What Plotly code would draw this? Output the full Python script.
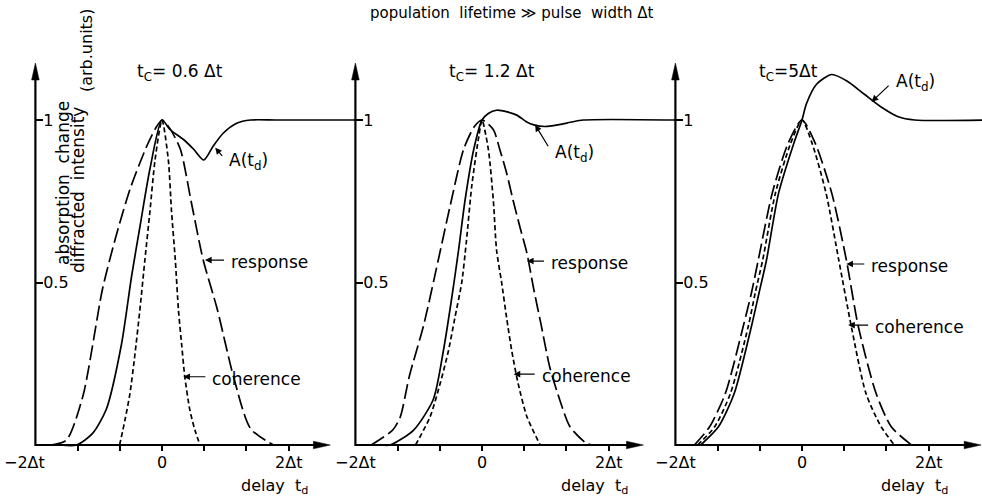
import plotly.graph_objects as go

# ---------------- data (delay t_d in units of Δt, signal in arb. units) ----------------
panel_titles = ["t<sub>C</sub>= 0.6 Δt", "t<sub>C</sub>= 1.2 Δt", "t<sub>C</sub>=5Δt"]
x_tick_vals = [-2, -4 / 3, -2 / 3, 0, 2 / 3, 4 / 3, 2]
x_label_vals = [-2, 0, 2]
x_label_text = ["−2Δt", "0", "2Δt"]
y_tick_vals = [0.5, 1]
y_tick_text = ["0.5", "1"]

# panel 1 : t_C = 0.6 Δt
a1_t = [-1.6, -1.35, -1.1, -0.88, -0.64, -0.48, -0.35, -0.19, 0.0, 0.13, 0.34, 0.5, 0.66, 0.81, 0.97, 1.18, 1.4, 1.8, 3.05]
a1_y = [0.0, 0.0, 0.035, 0.11, 0.31, 0.52, 0.67, 0.85, 1.0, 0.97, 0.94, 0.91, 0.877, 0.92, 0.96, 0.99, 1.0, 1.0, 1.0]
r1_t = [-1.75, -1.51, -1.25, -0.94, -0.73, -0.5, -0.24, -0.1, 0.0, 0.12, 0.29, 0.47, 0.65, 0.87, 1.13, 1.4, 1.76]
r1_y = [0.0, 0.015, 0.15, 0.48, 0.64, 0.79, 0.92, 0.975, 1.0, 0.975, 0.91, 0.74, 0.57, 0.42, 0.21, 0.05, 0.0]
c1_t = [-0.67, -0.585, -0.506, -0.427, -0.35, -0.27, -0.19, -0.11, 0.0, 0.1, 0.15, 0.21, 0.26, 0.31, 0.36, 0.44, 0.52, 0.6]
c1_y = [0.0, 0.077, 0.159, 0.28, 0.415, 0.57, 0.72, 0.877, 1.0, 0.877, 0.72, 0.57, 0.415, 0.31, 0.21, 0.108, 0.046, 0.0]

# panel 2 : t_C = 1.2 Δt
a2_t = [-1.6, -1.45, -1.08, -0.77, -0.61, -0.48, -0.37, -0.27, -0.13, 0.0, 0.1, 0.23, 0.4, 0.55, 0.7, 0.82, 1.0, 1.2, 1.4, 1.6, 3.05]
a2_y = [0.0, 0.0, 0.046, 0.14, 0.29, 0.45, 0.6, 0.75, 0.91, 1.0, 1.02, 1.03, 1.025, 1.015, 0.995, 0.985, 0.98, 0.985, 0.993, 1.0, 1.0]
r2_t = [-1.75, -1.41, -1.29, -1.15, -0.92, -0.69, -0.51, -0.29, -0.12, 0.0, 0.18, 0.28, 0.39, 0.49, 0.6, 0.71, 0.81, 0.94, 1.07, 1.23, 1.39, 1.65, 1.75]
r2_y = [0.0, 0.046, 0.087, 0.21, 0.37, 0.57, 0.73, 0.91, 0.98, 1.0, 0.97, 0.91, 0.836, 0.754, 0.67, 0.59, 0.487, 0.364, 0.24, 0.138, 0.056, 0.005, 0.0]
c2_t = [-1.05, -0.82, -0.66, -0.53, -0.43, -0.32, -0.25, -0.16, -0.05, 0.0, 0.1, 0.18, 0.23, 0.31, 0.39, 0.47, 0.57, 0.71, 0.92]
c2_y = [0.0, 0.087, 0.19, 0.29, 0.39, 0.5, 0.62, 0.8, 0.95, 1.0, 0.91, 0.75, 0.6, 0.5, 0.39, 0.29, 0.19, 0.087, 0.0]

# panel 3 : t_C = 5 Δt
a3_t = [-1.6, -1.32, -1.07, -0.8, -0.68, -0.56, -0.37, -0.13, 0.0, 0.07, 0.23, 0.47, 0.71, 0.98, 1.25, 1.52, 1.78, 2.9]
a3_y = [0.0, 0.056, 0.159, 0.364, 0.467, 0.57, 0.775, 0.928, 1.0, 1.05, 1.11, 1.14, 1.12, 1.08, 1.04, 1.01, 1.0, 1.0]
r3_t = [-1.7, -1.46, -1.21, -0.93, -0.8, -0.69, -0.47, -0.22, 0.0, 0.21, 0.47, 0.7, 0.89, 1.17, 1.41, 1.73]
r3_y = [0.0, 0.056, 0.159, 0.364, 0.467, 0.57, 0.775, 0.928, 1.0, 0.928, 0.775, 0.57, 0.364, 0.159, 0.056, 0.0]
c3_t = [-1.65, -1.38, -1.13, -0.85, -0.74, -0.62, -0.42, -0.18, 0.0, 0.16, 0.38, 0.58, 0.78, 1.01, 1.25, 1.46]
c3_y = [0.0, 0.056, 0.159, 0.364, 0.467, 0.57, 0.775, 0.928, 1.0, 0.928, 0.775, 0.57, 0.364, 0.159, 0.056, 0.0]

panels = [
    dict(A=(a1_t, a1_y), R=(r1_t, r1_y), C=(c1_t, c1_y)),
    dict(A=(a2_t, a2_y), R=(r2_t, r2_y), C=(c2_t, c2_y)),
    dict(A=(a3_t, a3_y), R=(r3_t, r3_y), C=(c3_t, c3_y)),
]

# ---------------- layout geometry (pixels) ----------------
W, H = 982, 499
ZERO_PX = [162, 482, 802]
DT_PX = 63.3
BASE_PX = 445.0
UNIT_PX = 325.0
Y_RANGE = [-(H - BASE_PX) / UNIT_PX, BASE_PX / UNIT_PX]
X_ARROW_TIP = [2.66, 2.55, 2.83]
Y_ARROW_TIP_PX = 63
FONT = "DejaVu Sans"


def fx(p):
    return p / W


def fy(p):
    return 1 - p / H


def note(text, xp, yp, size=17, angle=0, xanchor="center"):
    return dict(text=text, x=fx(xp), y=fy(yp), xref="paper", yref="paper", showarrow=False,
                xanchor=xanchor, yanchor="middle", textangle=angle,
                font=dict(size=size, family=FONT, color="black"))


fig = go.Figure()
layout = dict(
    template="none",
    width=W, height=H, margin=dict(l=0, r=0, t=0, b=0, pad=0, autoexpand=False),
    paper_bgcolor="white", plot_bgcolor="rgba(0,0,0,0)", showlegend=False,
    font=dict(family=FONT, size=16, color="black"),
)
shapes = []
annotations = []

styles = {"A": None, "R": "15px,5px", "C": "5px,3px"}

for k in range(3):
    n = "" if k == 0 else str(k + 1)
    xa, ya = "x" + n, "y" + n
    z = ZERO_PX[k]
    left = z - 2 * DT_PX
    right = min(z + 3.05 * DT_PX, W)
    layout["xaxis" + n] = dict(
        domain=[fx(left), fx(right)], range=[-2, (right - z) / DT_PX],
        anchor="free", position=(H - BASE_PX) / H, automargin=False,
        tickvals=x_tick_vals, showticklabels=False, ticks="outside", ticklen=5,
        tickwidth=1.5, tickcolor="black", showline=False, showgrid=False,
        zeroline=False, fixedrange=True,
    )
    layout["yaxis" + n] = dict(
        domain=[0, 1], range=Y_RANGE, anchor=xa, side="left", automargin=False,
        tickvals=y_tick_vals, ticktext=y_tick_text, ticks="inside", ticklen=8,
        tickwidth=1.5, tickcolor="black", ticklabelposition="inside",
        showline=False, showgrid=False, zeroline=False,
        tickfont=dict(size=16, family=FONT, color="black"), fixedrange=True,
    )
    for key in ["R", "C", "A"]:
        t, v = panels[k][key]
        line = dict(color="black", width=1.7, shape="spline", smoothing=0.7)
        if styles[key]:
            line["dash"] = styles[key]
        fig.add_trace(go.Scatter(x=t, y=v, mode="lines", line=line,
                                 xaxis=xa, yaxis=ya, hoverinfo="skip"))

    # axis lines with arrow heads (paper coordinates from pixel geometry)
    ax_px = left
    tip_px = z + X_ARROW_TIP[k] * DT_PX
    shapes.append(dict(type="line", xref="paper", yref="paper",
                       x0=fx(ax_px), y0=fy(BASE_PX), x1=fx(tip_px - 8), y1=fy(BASE_PX),
                       line=dict(color="black", width=2.2)))
    shapes.append(dict(type="path", xref="paper", yref="paper", fillcolor="black",
                       line=dict(color="black", width=0.5),
                       path=f"M {fx(tip_px)},{fy(BASE_PX)} L {fx(tip_px - 17)},{fy(BASE_PX - 3.8)} "
                            f"L {fx(tip_px - 17)},{fy(BASE_PX + 3.8)} Z"))
    shapes.append(dict(type="line", xref="paper", yref="paper",
                       x0=fx(ax_px), y0=fy(BASE_PX + 1), x1=fx(ax_px), y1=fy(Y_ARROW_TIP_PX + 8),
                       line=dict(color="black", width=2.2)))
    shapes.append(dict(type="path", xref="paper", yref="paper", fillcolor="black",
                       line=dict(color="black", width=0.5),
                       path=f"M {fx(ax_px)},{fy(Y_ARROW_TIP_PX)} L {fx(ax_px - 3.8)},{fy(Y_ARROW_TIP_PX + 17)} "
                            f"L {fx(ax_px + 3.8)},{fy(Y_ARROW_TIP_PX + 17)} Z"))

    # x tick labels
    for tv, tt in zip(x_label_vals, x_label_text):
        annotations.append(dict(text=tt, x=tv, y=fy(462), xref=xa, yref="paper",
                                showarrow=False, xanchor="center", yanchor="middle",
                                xshift=(-11 if (k == 0 and tv == -2) else 0),
                                font=dict(size=16, family=FONT, color="black")))

    # panel title and x label
    annotations.append(note(panel_titles[k], z + [18, 10, -14][k], 72, size=17))
    annotations.append(note("delay  t<sub>d</sub>", z + 2 * DT_PX - 14, 486, size=16))

# curve labels with arrows: (panel, text, tip t, tip y, tail dx, tail dy)
labels = [
    (0, "A(t<sub>d</sub>)", 0.84, 0.915, 11, 13),
    (0, "response", 0.68, 0.569, 23, 0),
    (0, "coherence", 0.337, 0.21, 26, 0),
    (1, "A(t<sub>d</sub>)", 0.84, 0.985, 17, 28),
    (1, "response", 0.71, 0.566, 21, 0),
    (1, "coherence", 0.5, 0.218, 25, 0),
    (2, "A(t<sub>d</sub>)", 1.1, 1.056, 21, -20),
    (2, "response", 0.7, 0.557, 22, 0),
    (2, "coherence", 0.73, 0.369, 24, 0),
]
for k, txt, tt, ty, dx, dy in labels:
    n = "" if k == 0 else str(k + 1)
    annotations.append(dict(x=tt, y=ty, xref="x" + n, yref="y" + n, text=" ", showarrow=True,
                            ax=dx, ay=dy, axref="pixel", ayref="pixel", arrowhead=2,
                            arrowsize=1.1, arrowwidth=1.2, arrowcolor="black", standoff=0))
    tip_px = ZERO_PX[k] + tt * DT_PX
    tip_py = BASE_PX - ty * UNIT_PX
    annotations.append(note(txt, tip_px + dx + 1, tip_py + dy + (2 if dy == 0 else 1),
                            size=17, xanchor="left"))

# overall title and y-axis title
annotations.append(note("population  lifetime ≫ pulse  width Δt", 511, 13, size=15))
annotations.append(note("absorption  change", 63, 183, size=17, angle=-90))
annotations.append(note("diffracted  intensity", 78, 190, size=17, angle=-90))
annotations.append(note("(arb.units)", 87, 51, size=16, angle=-90))

layout["shapes"] = shapes
layout["annotations"] = annotations
fig.update_layout(**layout)
fig.write_html("out.html")
